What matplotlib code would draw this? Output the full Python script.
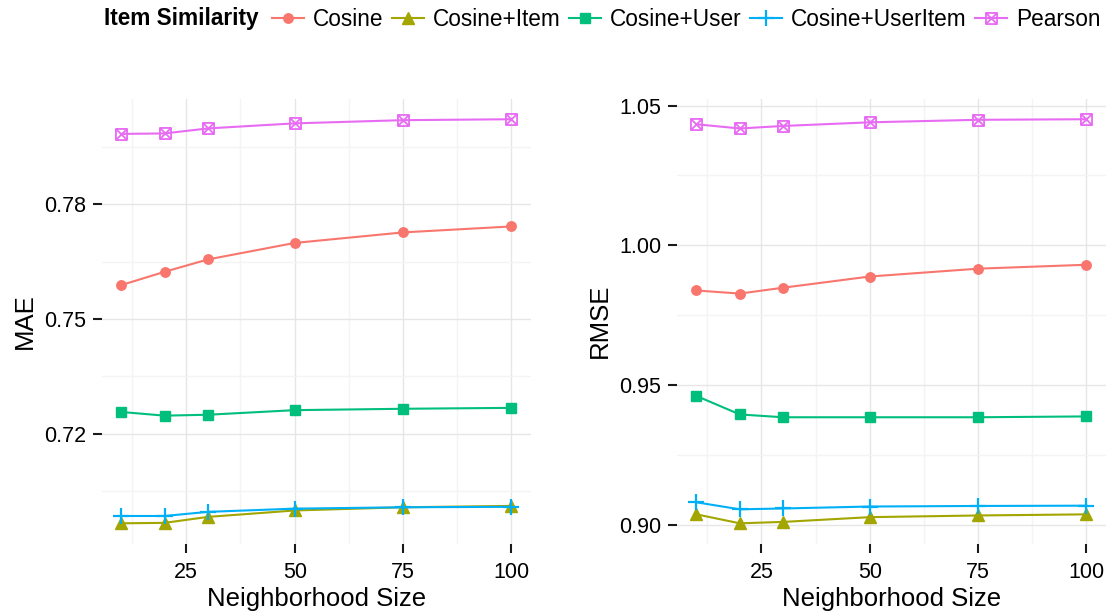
import matplotlib
matplotlib.use("Agg")
import matplotlib.pyplot as plt
from matplotlib.path import Path

# neighbourhood sizes (x axis)
sizes = [10, 20, 30, 50, 75, 100]

# MAE per method
mae_cosine = [0.7574, 0.7603, 0.7630, 0.7666, 0.7689, 0.7702]
mae_item = [0.7054, 0.7055, 0.7068, 0.7082, 0.7089, 0.7092]
mae_user = [0.7297, 0.7289, 0.7291, 0.7301, 0.7304, 0.7306]
mae_useritem = [0.7070, 0.7070, 0.7079, 0.7086, 0.7089, 0.7090]
mae_pearson = [0.7904, 0.7905, 0.7916, 0.7927, 0.7934, 0.7936]

# RMSE per method
rmse_cosine = [0.9839, 0.9828, 0.9849, 0.9889, 0.9917, 0.9931]
rmse_item = [0.9039, 0.9007, 0.9012, 0.9029, 0.9035, 0.9039]
rmse_user = [0.9462, 0.9396, 0.9386, 0.9386, 0.9386, 0.9389]
rmse_useritem = [0.9082, 0.9057, 0.9060, 0.9067, 0.9069, 0.9070]
rmse_pearson = [1.0433, 1.0418, 1.0427, 1.0440, 1.0449, 1.0451]

methods = ["Cosine", "Cosine+Item", "Cosine+User", "Cosine+UserItem", "Pearson"]
mae_values = [mae_cosine, mae_item, mae_user, mae_useritem, mae_pearson]
rmse_values = [rmse_cosine, rmse_item, rmse_user, rmse_useritem, rmse_pearson]

# axis breaks as printed (ggplot rounds 0.725 -> 0.72, 0.775 -> 0.78)
x_ticks = [25, 50, 75, 100]
mae_ticks = [0.725, 0.750, 0.775]
mae_labels = ["0.72", "0.75", "0.78"]
rmse_ticks = [0.90, 0.95, 1.00, 1.05]
rmse_labels = ["0.90", "0.95", "1.00", "1.05"]

colors = ["#F8766D", "#A3A500", "#00BF7D", "#00B0F6", "#E76BF3"]

# square with a cross inside (R pch 7)
box_x = Path([(-1, -1), (1, -1), (1, 1), (-1, 1), (-1, -1),
              (-1, -1), (1, 1), (-1, 1), (1, -1)],
             [Path.MOVETO, Path.LINETO, Path.LINETO, Path.LINETO, Path.CLOSEPOLY,
              Path.MOVETO, Path.LINETO, Path.MOVETO, Path.LINETO])

styles = [
    dict(marker="o", markersize=6.8),
    dict(marker="^", markersize=9),
    dict(marker="s", markersize=7),
    dict(marker="+", markersize=11, markeredgewidth=1.6),
    dict(marker=box_x, markersize=8, markerfacecolor="none", markeredgewidth=1.3),
]

plt.rcParams["font.family"] = ["Liberation Sans", "DejaVu Sans"]

fig = plt.figure(figsize=(11.12, 6.14), dpi=100)
ax1 = fig.add_axes([0.0915, 0.1148, 0.3860, 0.7239])
ax2 = fig.add_axes([0.6088, 0.1148, 0.3858, 0.7239])

def draw_panel(ax, values, ylabel, yticks, ylabels):
    for name, vals, col, st in zip(methods, values, colors, styles):
        ax.plot(sizes, vals, color=col, lw=1.5, label=name, **st)
    ax.set_xlim(5.5, 104.5)
    ax.set_xticks(x_ticks)
    ax.set_xticks([(a + b) / 2 for a, b in zip([0] + x_ticks[:-1], x_ticks)], minor=True)
    ax.set_yticks(yticks, ylabels)
    step = yticks[1] - yticks[0]
    ax.set_yticks([yticks[0] - step / 2] + [t + step / 2 for t in yticks], minor=True)
    ax.grid(True, which="major", color="#E6E6E6", lw=1.0)
    ax.grid(True, which="minor", color="#F4F4F4", lw=1.0)
    ax.set_axisbelow(True)
    for s in ax.spines.values():
        s.set_visible(False)
    ax.tick_params(which="major", length=6.5, width=1.5, color="#1a1a1a",
                   labelsize=15.5, pad=5)
    ax.tick_params(axis="x", which="major", pad=6.5)
    ax.tick_params(which="minor", length=0)
    ax.set_xlabel("Neighborhood Size", fontsize=18.5, labelpad=3)
    ax.set_ylabel(ylabel, fontsize=18.5, labelpad=5)

draw_panel(ax1, mae_values, "MAE", mae_ticks, mae_labels)
draw_panel(ax2, rmse_values, "RMSE", rmse_ticks, rmse_labels)
# keep ggplot's 5% expansion on y
for ax in (ax1, ax2):
    ax.autoscale(axis="y")
    ax.margins(y=0.05)

# legend on top, title to the left of the keys
fig.text(104 / 1112, 1 - 19 / 614, "Item Similarity", fontsize=16.3,
         fontweight="bold", va="center", ha="left")
handles, labels = ax1.get_legend_handles_labels()
fig.legend(handles, labels, loc="center left", ncol=5, frameon=False,
           bbox_to_anchor=(272 / 1112, 1 - 19 / 614), fontsize=16.3,
           handlelength=1.4, handletextpad=0.4, columnspacing=0.38,
           borderpad=0, borderaxespad=0)

fig.savefig("out.png", dpi=100)
